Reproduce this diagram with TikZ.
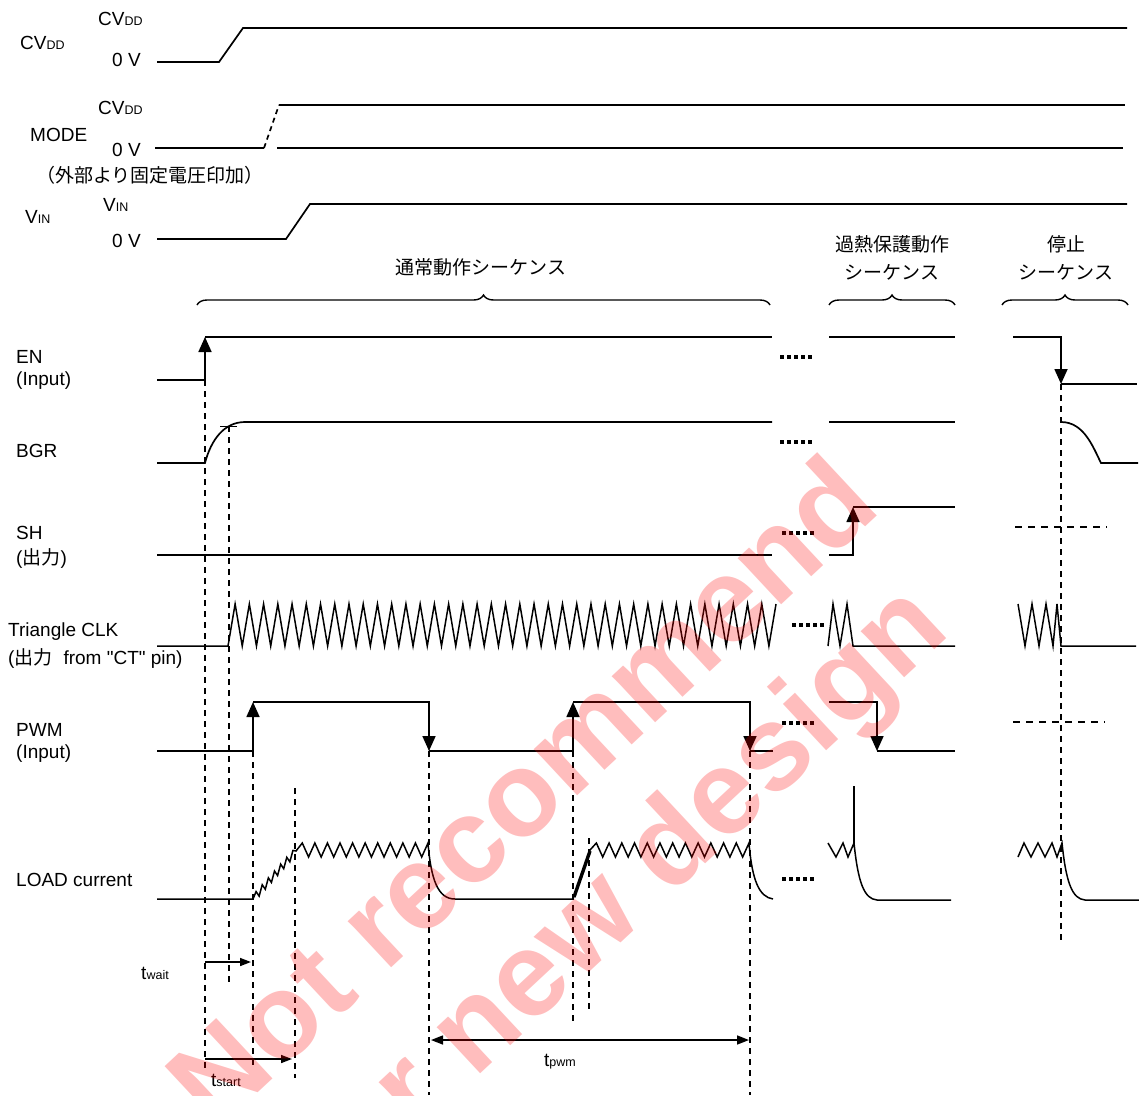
\documentclass[tikz,border=0pt]{standalone}
\usepackage{fontspec}
\setmainfont{Liberation Sans}
\newfontfamily\jp{Noto Sans CJK JP}
\usetikzlibrary{arrows.meta,decorations.pathreplacing}
\newcommand\subtx[1]{{\fontsize{12.5}{13}\selectfont #1}}
\begin{document}
\begin{tikzpicture}[x=1pt,y=-1pt,
  sig/.style={line width=1.7pt, line join=miter},
  tip/.style={-{Triangle[length=15pt,width=13pt]}},
  tl/.style={line width=1.5pt, dash pattern=on 6pt off 5pt},
  hdash/.style={line width=1.5pt, dash pattern=on 7pt off 6pt},
  dots/.style={line width=3.5pt, dash pattern=on 3.5pt off 3.5pt},
  lbl/.style={anchor=west, inner sep=0pt, font=\fontsize{19}{22}\selectfont},
  jl/.style={inner sep=0pt, font=\jp\fontsize{19}{22}\selectfont},
  tx/.style={inner sep=0pt, font=\fontsize{19}{22}\selectfont},
  brc/.style={decorate, decoration={brace, amplitude=10pt}, line width=1.4pt},
  tarr/.style={line width=1.5pt, -{Triangle[length=11pt,width=8pt]}},
  wm/.style={rotate=43, text=red, text opacity=0.26, inner sep=0pt,
    font=\fontsize{120}{120}\selectfont\bfseries}
]
\useasboundingbox (0,0) rectangle (1139,1095);

% ---------- top supply section ----------
\node[lbl] (cvddL) at (20,43) {CV\subtx{DD}};
\node[lbl] (cvddH) at (98,19) {CV\subtx{DD}};
\node[lbl] (cvdd0) at (112,60) {0 V};
\node[lbl] (modeL) at (30,135) {MODE};
\node[lbl] (modeH) at (98,108) {CV\subtx{DD}};
\node[lbl] (mode0) at (112,150) {0 V};
\node[jl] (modeN) at (150,175) {（外部より固定電圧印加）};
\node[lbl] (vinL) at (25,217) {V\subtx{IN}};
\node[lbl] (vinH) at (103,205) {V\subtx{IN}};
\node[lbl] (vin0) at (112,241) {0 V};

\draw[sig] (157,62) -- (219,62) -- (243,28) -- (1127,28);
\draw[sig] (155,148) -- (264,148);
\draw[sig, dash pattern=on 5pt off 4pt] (264,148) -- (279,105);
\draw[sig] (279,105) -- (1125,105);
\draw[sig] (277,148) -- (1123,148);
\draw[sig] (157,239) -- (286,239) -- (310,204) -- (1127,204);

% ---------- headings and braces ----------
\node[jl] (hnorm) at (481,267) {通常動作シーケンス};
\node[jl] (hot1) at (892,244) {過熱保護動作};
\node[jl] (hot2) at (892,272) {シーケンス};
\node[jl] (stp1) at (1066,244) {停止};
\node[jl] (stp2) at (1066,272) {シーケンス};
\draw[brc] (197,305) -- (770,305);
\draw[brc] (829,305) -- (955,305);
\draw[brc] (1002,305) -- (1128,305);

% ---------- signal labels ----------
\node[lbl] (lEN) at (16,357) {EN};
\node[lbl] (lENi) at (16,381) {(Input)};
\node[lbl] (lBGR) at (16,451) {BGR};
\node[lbl] (lSH) at (16,533) {SH};
\node[lbl] (lSHo) at (16,558) {({\jp 出力})};
\node[lbl] (lCLK) at (8,632) {Triangle CLK};
\node[lbl] (lCLKo) at (8,658) {({\jp 出力}\hspace{11pt}from \textquotedbl CT\textquotedbl\ pin)};
\node[lbl] (lPWM) at (16,730) {PWM};
\node[lbl] (lPWMi) at (16,754) {(Input)};
\node[lbl] (lLOAD) at (16,880) {LOAD current};

% ---------- EN ----------
\draw[sig,tip] (157,380) -- (205,380) -- (205,337);
\draw[sig] (205,337) -- (772,337);
\draw[dots] (780,357) -- (815,357);
\draw[sig] (829,337) -- (955,337);
\draw[sig,tip] (1013,337) -- (1061,337) -- (1061,384);
\draw[sig] (1061,384) -- (1137,384);

% ---------- BGR ----------
\draw[sig] (157,463) -- (205,463) .. controls (211,440) and (224,422) .. (245,422) -- (772,422);
\draw[line width=1pt] (220,426) -- (237,426);
\draw[dots] (780,442) -- (815,442);
\draw[sig] (829,422) -- (955,422);
\draw[sig] (1061,422) .. controls (1084,422) and (1093,447) .. (1101,463) -- (1138,463);

% ---------- SH ----------
\draw[sig] (157,555) -- (772,555);
\draw[dots] (782,533) -- (817,533);
\draw[sig,tip] (829,555) -- (853,555) -- (853,507);
\draw[sig] (853,507) -- (955,507);
\draw[hdash] (1015,527) -- (1107,527);

% ---------- Triangle CLK ----------
\draw[sig, line width=1.5pt] (157,646) -- (228,646)
  foreach \k in {1,...,77} { -- ({228+7.117*\k},{ifthenelse(isodd(\k),604,646)}) };
\draw[dots] (792,625) -- (827,625);
\draw[sig, line width=1.5pt] (828,646) -- (833,604) -- (840,646) -- (847,604) -- (853,646) -- (955,646);
\draw[sig, line width=1.5pt] (1018,604) -- (1025,646) -- (1032,604) -- (1039,646) -- (1046,604) -- (1053,646) -- (1057,604) -- (1061,646) -- (1136,646);

% ---------- PWM ----------
\draw[sig,tip] (157,751) -- (253,751) -- (253,702);
\draw[sig,tip] (253,702) -- (429,702) -- (429,751);
\draw[sig,tip] (429,751) -- (573,751) -- (573,702);
\draw[sig,tip] (573,702) -- (750,702) -- (750,751);
\draw[sig] (750,751) -- (773,751);
\draw[dots] (782,723) -- (817,723);
\draw[sig,tip] (829,702) -- (877,702) -- (877,751);
\draw[sig] (877,751) -- (955,751);
\draw[hdash] (1013,722) -- (1105,722);

% ---------- LOAD current ----------
\draw[sig, line width=1.5pt] (157,899) -- (253,899)
  foreach \k in {1,...,13} { -- ({253+43*\k/14},{899-48*\k/14+ifthenelse(isodd(\k),-4,4)}) }
  -- (296,851)
  foreach \k in {1,...,21} { -- ({296+6.286*\k},{ifthenelse(isodd(\k),843,857)}) }
  .. controls (431,880) and (438,899) .. (455,899) -- (573,899) -- (590,850)
  foreach \k in {1,...,25} { -- ({590+6.36*\k},{ifthenelse(isodd(\k),843,857)}) }
  .. controls (752,880) and (759,897) .. (773,899);
\draw[line width=3.4pt] (574,897) -- (590,851);
\draw[dots] (782,879) -- (817,879);
\draw[sig] (854,786) -- (854,843);
\draw[sig, line width=1.5pt] (828,843) -- (836,857) -- (843,843) -- (848,857) -- (854,843)
  .. controls (858,882) and (864,899) .. (877,900) -- (951,900);
\draw[sig, line width=1.5pt] (1018,857) -- (1024,843) -- (1031,857) -- (1038,843) -- (1045,857) -- (1052,843) -- (1057,857) -- (1062,843)
  .. controls (1066,882) and (1072,899) .. (1085,900) -- (1139,900);

% ---------- timing guide lines ----------
\draw[tl] (205,380) -- (205,1068);
\draw[tl] (229,426) -- (229,985);
\draw[tl] (253,751) -- (253,1066);
\draw[tl] (295,788) -- (295,1078);
\draw[tl] (429,751) -- (429,1095);
\draw[tl] (573,751) -- (573,1023);
\draw[tl] (589,838) -- (589,1010);
\draw[tl] (750,751) -- (750,1095);
\draw[tl] (1061,384) -- (1061,940);

% ---------- time intervals ----------
\draw[tarr] (205,962) -- (251,962);
\node[tx] (tw) at (155,973) {t\subtx{wait}};
\draw[tarr] (205,1059) -- (292,1059);
\node[tx] (ts) at (226,1080) {t\subtx{start}};
\draw[line width=1.5pt,{Triangle[length=12pt,width=9pt]}-{Triangle[length=12pt,width=9pt]}] (431,1040) -- (749,1040);
\node[tx] (tp) at (560,1062) {t\subtx{pwm}};

% ---------- watermark ----------
\node[wm] (wm1) at (520,790) {Not recommend};
\node[wm] (wm2) at (622,900) {for new design};
\end{tikzpicture}
\end{document}
